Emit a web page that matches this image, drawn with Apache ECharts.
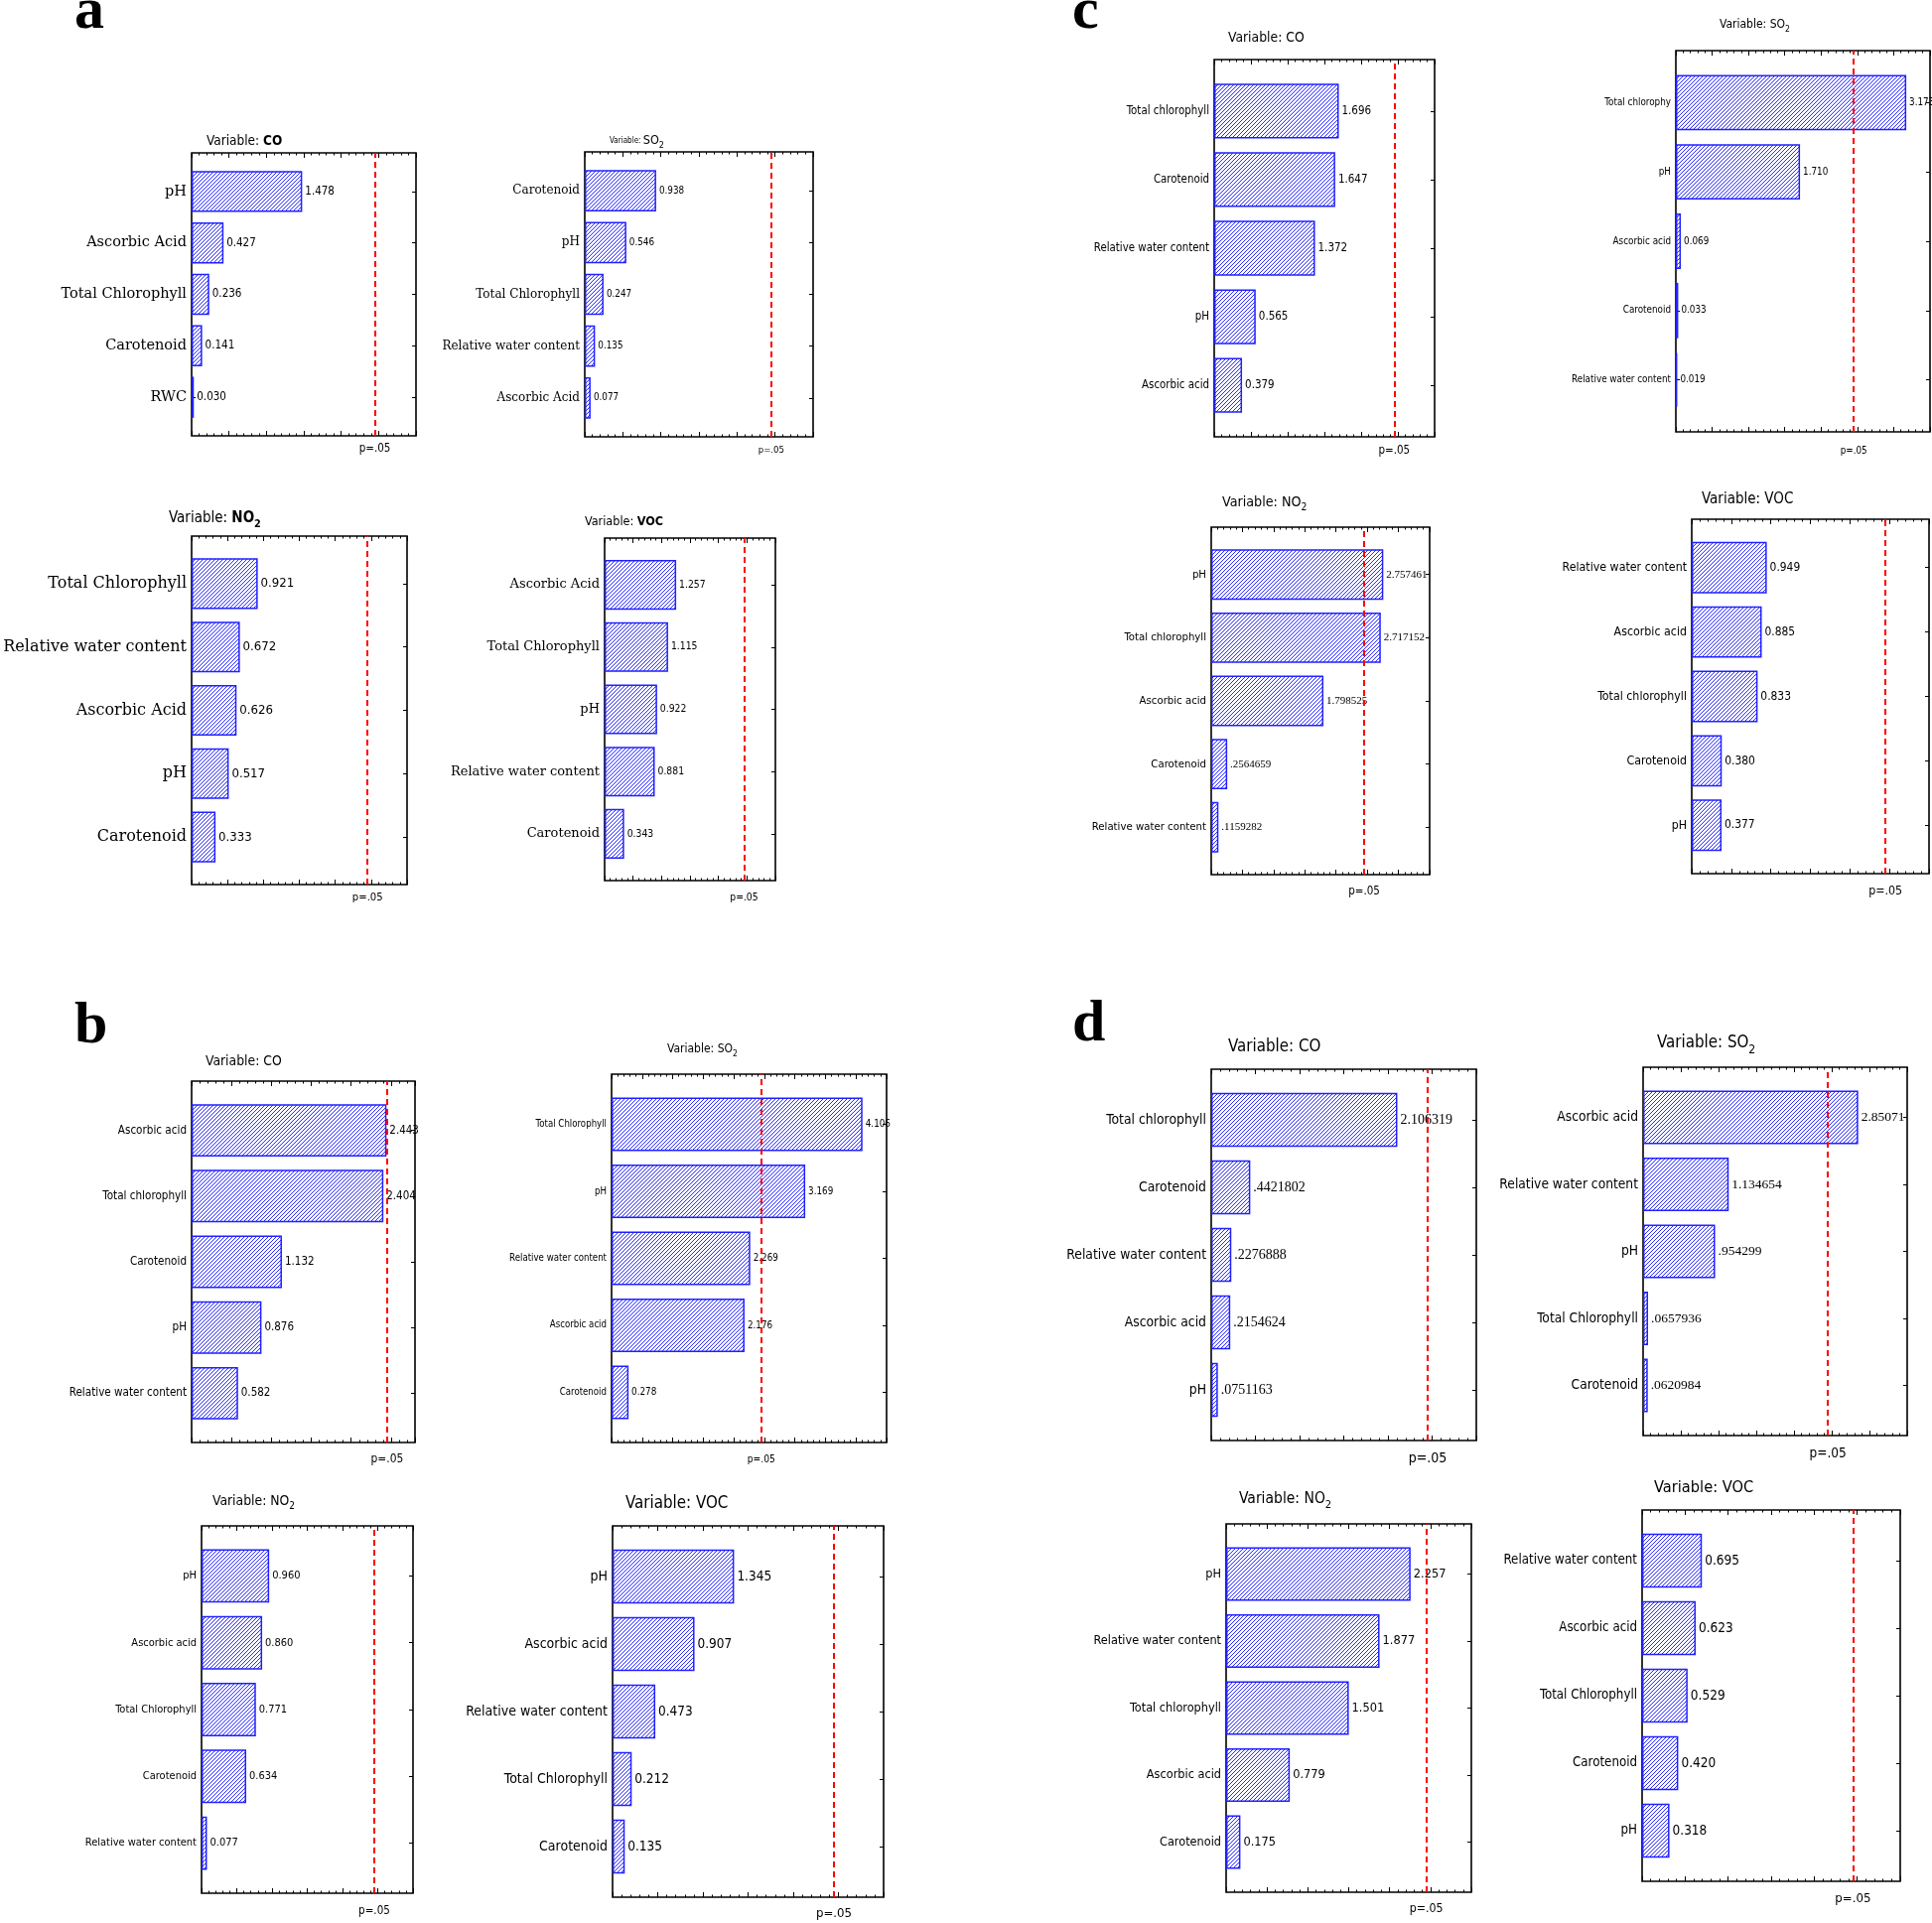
<!DOCTYPE html>
<html><head><meta charset="utf-8">
<script src="https://cdn.jsdelivr.net/npm/echarts@6/dist/echarts.min.js"></script>
<style>html,body{margin:0;padding:0;background:#fff}#c{width:1946px;height:1937px}</style>
</head><body><div id="c"></div>
<script>
// ---------- data ----------
const P05 = 2.447; // critical value of the p=.05 line
const aCO_cats  = ['pH','Ascorbic Acid','Total Chlorophyll','Carotenoid','RWC'];
const aCO_vals  = [1.478,0.427,0.236,0.141,0.030];
const aSO2_cats = ['Carotenoid','pH','Total Chlorophyll','Relative water content','Ascorbic Acid'];
const aSO2_vals = [0.938,0.546,0.247,0.135,0.077];
const aNO2_cats = ['Total Chlorophyll','Relative water content','Ascorbic Acid','pH','Carotenoid'];
const aNO2_vals = [0.921,0.672,0.626,0.517,0.333];
const aVOC_cats = ['Ascorbic Acid','Total Chlorophyll','pH','Relative water content','Carotenoid'];
const aVOC_vals = [1.257,1.115,0.922,0.881,0.343];

const bCO_cats  = ['Ascorbic acid','Total chlorophyll','Carotenoid','pH','Relative water content'];
const bCO_vals  = [2.443,2.404,1.132,0.876,0.582];
const bSO2_cats = ['Total Chlorophyll','pH','Relative water content','Ascorbic acid','Carotenoid'];
const bSO2_vals = [4.106,3.169,2.269,2.176,0.278];
const bNO2_cats = ['pH','Ascorbic acid','Total Chlorophyll','Carotenoid','Relative water content'];
const bNO2_vals = [0.960,0.860,0.771,0.634,0.077];
const bVOC_cats = ['pH','Ascorbic acid','Relative water content','Total Chlorophyll','Carotenoid'];
const bVOC_vals = [1.345,0.907,0.473,0.212,0.135];

const cCO_cats  = ['Total chlorophyll','Carotenoid','Relative water content','pH','Ascorbic acid'];
const cCO_vals  = [1.696,1.647,1.372,0.565,0.379];
const cSO2_cats = ['Total chlorophy','pH','Ascorbic acid','Carotenoid','Relative water content'];
const cSO2_vals = [3.173,1.710,0.069,0.033,0.019];
const cNO2_cats = ['pH','Total chlorophyll','Ascorbic acid','Carotenoid','Relative water content'];
const cNO2_vals = [2.757461,2.717152,1.798525,0.2564659,0.1159282];
const cVOC_cats = ['Relative water content','Ascorbic acid','Total chlorophyll','Carotenoid','pH'];
const cVOC_vals = [0.949,0.885,0.833,0.380,0.377];

const dCO_cats  = ['Total chlorophyll','Carotenoid','Relative water content','Ascorbic acid','pH'];
const dCO_vals  = [2.106319,0.4421802,0.2276888,0.2154624,0.0751163];
const dSO2_cats = ['Ascorbic acid','Relative water content','pH','Total Chlorophyll','Carotenoid'];
const dSO2_vals = [2.85071,1.134654,0.954299,0.0657936,0.0620984];
const dNO2_cats = ['pH','Relative water content','Total chlorophyll','Ascorbic acid','Carotenoid'];
const dNO2_vals = [2.257,1.877,1.501,0.779,0.175];
const dVOC_cats = ['Relative water content','Ascorbic acid','Total Chlorophyll','Carotenoid','pH'];
const dVOC_vals = [0.695,0.623,0.529,0.420,0.318];

const panelLetters = ['a','b','c','d'];

// ---------- styles / layout ----------
const NARROW = "'Liberation Sans Narrow','Arial Narrow','DejaVu Sans Condensed',sans-serif";
const SERIF  = "'DejaVu Serif',serif";
const TIMES  = "'Liberation Serif','Times New Roman',serif";

const charts = [
 {cats:aCO_cats, vals:aCO_vals, gas:'CO', sub:'', box:[193,154,419,439], max:3, t:{x:208,y:142,fs:13.5,bold:true}, cf:SERIF, cfs:14.5, vf:NARROW, vfs:11.5, pfs:11.5, py:452},
 {cats:aSO2_cats,vals:aSO2_vals,gas:'SO',sub:'2',box:[589,153,819,440], max:3, t:{x:614,y:142,fs:12.5,pre:8}, cf:SERIF, cfs:12, vf:NARROW, vfs:9.8, pfs:9.5, py:453},
 {cats:aNO2_cats,vals:aNO2_vals,gas:'NO',sub:'2',box:[193,540,410,891], max:3, t:{x:170,y:522,fs:15,bold:true}, cf:SERIF, cfs:16, vf:NARROW, vfs:13.1, pfs:11.2, py:904},
 {cats:aVOC_cats,vals:aVOC_vals,gas:'VOC',sub:'',box:[609,542,781,887], max:3, t:{x:589,y:526,fs:12.5,bold:true}, cf:SERIF, cfs:13, vf:NARROW, vfs:10.3, pfs:10.3, py:904},

 {cats:bCO_cats, vals:bCO_vals, gas:'CO', sub:'', box:[193,1089,418,1453], max:2.8, t:{x:207,y:1069,fs:13.8}, cf:NARROW, cfs:11.6, vf:NARROW, vfs:11.5, pfs:11.9, py:1470},
 {cats:bSO2_cats,vals:bSO2_vals,gas:'SO',sub:'2',box:[616,1082,893,1453], max:4.5, t:{x:672,y:1057,fs:12}, cf:NARROW, cfs:9.6, vf:NARROW, vfs:9.8, pfs:10.2, py:1470},
 {cats:bNO2_cats,vals:bNO2_vals,gas:'NO',sub:'2',box:[203,1537,416,1907], max:3, t:{x:214,y:1512,fs:13.8}, cf:NARROW, cfs:11, vf:NARROW, vfs:11, pfs:11.5, py:1925},
 {cats:bVOC_cats,vals:bVOC_vals,gas:'VOC',sub:'',box:[617,1537,890,1911], max:3, t:{x:630,y:1515,fs:16.8}, cf:NARROW, cfs:14, vf:NARROW, vfs:13.5, pfs:13.1, py:1928},

 {cats:cCO_cats, vals:cCO_vals, gas:'CO', sub:'', box:[1223,60,1445,440], max:3, t:{x:1237,y:38,fs:13.8}, cf:NARROW, cfs:11.4, vf:NARROW, vfs:11.5, pfs:11.5, py:454},
 {cats:cSO2_cats,vals:cSO2_vals,gas:'SO',sub:'2',box:[1688,51,1944,435], max:3.5, t:{x:1732,y:25,fs:12}, cf:NARROW, cfs:9.8, vf:NARROW, vfs:9.8, pfs:9.8, py:454},
 {cats:cNO2_cats,vals:cNO2_vals,gas:'NO',sub:'2',box:[1220,531,1440,881], max:3.5, t:{x:1231,y:506,fs:14.2}, cf:NARROW, cfs:11.3, vf:TIMES, vfs:11, pfs:11.5, py:898, stat:true},
 {cats:cVOC_cats,vals:cVOC_vals,gas:'VOC',sub:'',box:[1704,523,1943,880], max:3, t:{x:1714,y:503,fs:15}, cf:NARROW, cfs:12.3, vf:NARROW, vfs:11.9, pfs:12.3, py:898},

 {cats:dCO_cats, vals:dCO_vals, gas:'CO', sub:'', box:[1220,1077,1487,1451], max:3, t:{x:1237,y:1055,fs:16.8}, cf:NARROW, cfs:13.8, vf:TIMES, vfs:14, pfs:14, py:1469, stat:true},
 {cats:dSO2_cats,vals:dSO2_vals,gas:'SO',sub:'2',box:[1655,1075,1921,1446], max:3.5, t:{x:1669,y:1051,fs:16.8}, cf:NARROW, cfs:13.7, vf:TIMES, vfs:13.5, pfs:13.5, py:1464, stat:true},
 {cats:dNO2_cats,vals:dNO2_vals,gas:'NO',sub:'2',box:[1235,1535,1482,1906], max:3, t:{x:1248,y:1510,fs:15.5}, cf:NARROW, cfs:12.6, vf:NARROW, vfs:12.7, pfs:12.3, py:1923},
 {cats:dVOC_cats,vals:dVOC_vals,gas:'VOC',sub:'',box:[1654,1521,1914,1895], max:3, t:{x:1666,y:1499,fs:16.3}, cf:NARROW, cfs:13.2, vf:NARROW, vfs:13.5, pfs:13.1, py:1913}
];
const letterPos = [[75,12],[75,1034],[1080,12],[1080,1032]];

// ---------- helpers ----------
function statFmt(v){
  let s = v.toPrecision(7);
  if (s.indexOf('.') >= 0) s = s.replace(/0+$/,'').replace(/\.$/,'');
  return s.replace(/^0\./,'.');
}
function hatch(){
  const n = 4, c = document.createElement('canvas'); c.width = n; c.height = n;
  const g = c.getContext('2d');
  g.fillStyle = '#ffffff'; g.fillRect(0,0,n,n);
  g.strokeStyle = '#2b2bff'; g.lineWidth = 1;
  g.beginPath();
  g.moveTo(-1,n+1); g.lineTo(n+1,-1);
  g.moveTo(-1,1); g.lineTo(1,-1);
  g.moveTo(n-1,n+1); g.lineTo(n+1,n-1);
  g.stroke();
  return c;
}
const pattern = {image: hatch(), repeat: 'repeat'};

// ---------- build option ----------
const grid = [], xAxis = [], yAxis = [], series = [], graphic = [];
charts.forEach(p => {
  const [L,T,R,B] = p.box, H = B - T, pad = H / 22;
  const gF = grid.length;
  grid.push({left:L, top:T, width:R-L, height:H, show:true, borderColor:'#000', borderWidth:1.6, backgroundColor:'rgba(0,0,0,0)'});
  const gI = grid.length;
  grid.push({left:L, top:T+pad, width:R-L, height:H-2*pad});
  const tick = {show:true, inside:true, length:5, lineStyle:{color:'#000', width:1}};
  const minor = {show:true, splitNumber:5, length:2.5, lineStyle:{color:'#000', width:1}};
  const xF = xAxis.length;
  ['bottom','top'].forEach(pos => xAxis.push({type:'value', gridIndex:gF, min:0, max:p.max, interval:0.5, position:pos,
      axisLine:{show:false}, axisLabel:{show:false}, splitLine:{show:false}, axisTick:tick, minorTick:minor}));
  const xI = xAxis.length;
  xAxis.push({type:'value', gridIndex:gI, min:0, max:p.max, show:false});
  const yF = yAxis.length;
  yAxis.push({type:'value', gridIndex:gF, min:0, max:1, show:false});
  const yI = yAxis.length;
  const ctick = {show:true, inside:true, alignWithLabel:true, length:4, lineStyle:{color:'#000', width:1}};
  yAxis.push({type:'category', gridIndex:gI, data:p.cats, inverse:true, position:'left',
      axisLine:{show:false}, axisTick:ctick, splitLine:{show:false},
      axisLabel:{color:'#000', fontFamily:p.cf, fontSize:p.cfs, margin:5}});
  yAxis.push({type:'category', gridIndex:gI, data:p.cats, inverse:true, position:'right',
      axisLine:{show:false}, axisTick:ctick, splitLine:{show:false}, axisLabel:{show:false}});
  series.push({type:'bar', xAxisIndex:xI, yAxisIndex:yI, data:p.vals, barCategoryGap:'20%', silent:true,
      itemStyle:{color:pattern, borderColor:'#2020ff', borderWidth:1.5},
      label:{show:true, position:'right', distance:3, color:'#000', fontFamily:p.vf, fontSize:p.vfs,
             formatter: d => p.stat ? statFmt(d.value) : d.value.toFixed(3)}});
  series.push({type:'line', xAxisIndex:xF, yAxisIndex:yF, data:[], z:5, silent:true,
      markLine:{silent:true, symbol:['none','none'], animation:false,
        lineStyle:{color:'#ff0000', type:[6,4], width:2},
        label:{show:true, position:'start', formatter:'p=.05', color:'#000', fontFamily:NARROW, fontSize:p.pfs,
               distance: Math.max(0, p.py - B - p.pfs/2)},
        data:[{xAxis:P05}]}});
  const t = p.t, w = t.bold ? 'bold' : 'normal';
  const rich = {
    p:{fontFamily:NARROW, fontSize:t.pre || t.fs, fill:'#000', lineHeight:t.fs*1.5, verticalAlign:'middle'},
    g:{fontFamily:NARROW, fontSize:t.fs, fill:'#000', fontWeight:w, lineHeight:t.fs*1.5, verticalAlign:'middle'},
    s:{fontFamily:NARROW, fontSize:t.fs*0.72, fill:'#000', fontWeight:w, lineHeight:t.fs*0.8, verticalAlign:'bottom'}
  };
  graphic.push({type:'text', x:t.x, y:t.y, silent:true, style:{
      text:'{p|Variable: }{g|' + p.gas + '}' + (p.sub ? '{s|' + p.sub + '}' : ''),
      rich:rich, align:'left', verticalAlign:'middle'}});
});
panelLetters.forEach((l,i) => graphic.push({type:'text', x:letterPos[i][0], y:letterPos[i][1], silent:true,
  style:{text:l, fontFamily:TIMES, fontSize:60, fontWeight:'bold', fill:'#000', align:'left', verticalAlign:'middle'}}));

const chart = echarts.init(document.getElementById('c'), null, {renderer:'canvas'});
chart.setOption({animation:false, backgroundColor:'#fff', grid, xAxis, yAxis, series, graphic});
</script></body></html>
